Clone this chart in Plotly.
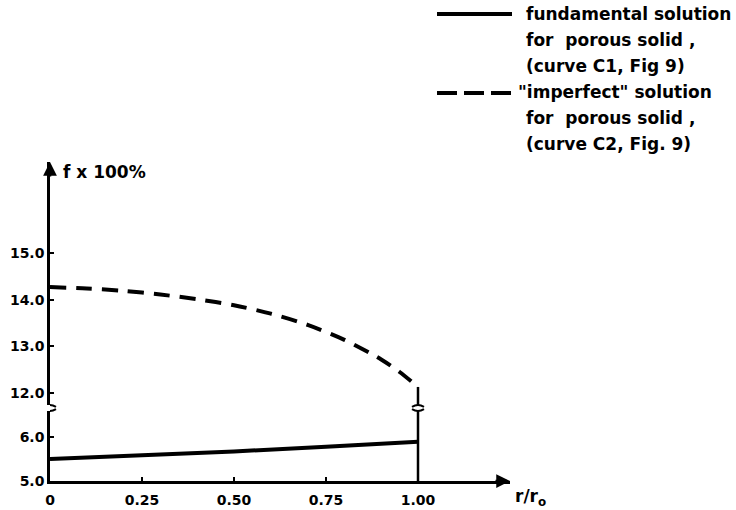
import plotly.graph_objects as go

# Radial position r/r0
r_fund = [0.0, 0.25, 0.50, 0.75, 1.00]
f_fund = [5.50, 5.58, 5.67, 5.78, 5.89]          # fundamental solution (curve C1)

r_imp = [0.0, 0.10, 0.20, 0.30, 0.40, 0.50, 0.60, 0.70, 0.80, 0.90, 0.95, 1.00]
f_imp = [14.27, 14.24, 14.19, 14.11, 14.01, 13.88, 13.70, 13.46, 13.14, 12.72, 12.45, 12.13]  # "imperfect" solution (curve C2)

x_ticks = [0.0, 0.25, 0.50, 0.75, 1.00]
x_ticktext = ["0", "0.25", "0.50", "0.75", "1.00"]
y_low_ticks = [5.0, 6.0]
y_high_ticks = [12.0, 13.0, 14.0, 15.0]

legend_lines_1 = ["fundamental solution", "for  porous solid ,", "(curve C1, Fig 9)"]
legend_lines_2 = ['"imperfect" solution', "for  porous solid ,", "(curve C2, Fig. 9)"]

# axis ranges (broken y axis: lower and upper panels)
x_range = [0.0, 1.25]
y_low_range = [5.0, 6.59]
y_high_range = [11.743, 16.95]
low_dom = [0.0, 0.2194]
high_dom = [0.2382, 1.0]

W, H = 736, 510
M = dict(l=50, r=226, t=162, b=29)
PW = W - M["l"] - M["r"]
PH = H - M["t"] - M["b"]

FONT = "DejaVu Sans"
INK = "black"

fig = go.Figure()

fig.add_trace(go.Scatter(x=r_fund, y=f_fund, mode="lines", xaxis="x", yaxis="y",
                         line=dict(color=INK, width=4), showlegend=False))
fig.add_trace(go.Scatter(x=r_imp, y=f_imp, mode="lines", xaxis="x", yaxis="y2",
                         line=dict(color=INK, width=4, dash="16px,10px",
                                   shape="spline", smoothing=0.8),
                         showlegend=False))

# boundary line at r/r0 = 1 in both panels
fig.add_trace(go.Scatter(x=[1.0, 1.0], y=y_low_range, mode="lines", xaxis="x", yaxis="y",
                         line=dict(color=INK, width=2.5), showlegend=False))
fig.add_trace(go.Scatter(x=[1.0, 1.0], y=[y_high_range[0], f_imp[-1]], mode="lines",
                         xaxis="x", yaxis="y2",
                         line=dict(color=INK, width=2.5), showlegend=False))

tickfont = dict(family=FONT, size=14, color=INK, weight="bold")
axis_common = dict(ticks="inside", ticklen=4, tickwidth=2, tickcolor=INK,
                   showline=True, linewidth=2.5, linecolor=INK, automargin=False,
                   showgrid=False, zeroline=False, tickfont=tickfont)

fig.update_layout(
    width=W, height=H, margin=M,
    paper_bgcolor="white", plot_bgcolor="white",
    xaxis=dict(range=x_range, domain=[0, 1], anchor="y",
               tickvals=x_ticks, ticktext=x_ticktext, ticklabelstandoff=4,
               **axis_common),
    yaxis=dict(range=y_low_range, domain=low_dom, anchor="x",
               tickvals=y_low_ticks, ticktext=[f"{v:.1f}" for v in y_low_ticks],
               **axis_common),
    yaxis2=dict(range=y_high_range, domain=high_dom, anchor="x",
                tickvals=y_high_ticks, ticktext=[f"{v:.1f}" for v in y_high_ticks],
                **axis_common),
    showlegend=False,
)

# arrowheads on the axes
fig.add_annotation(x=x_range[1], y=y_low_range[0], xref="x", yref="y", text="",
                   showarrow=True, ax=-16, ay=0, arrowhead=2, arrowsize=1.1,
                   arrowwidth=2.5, arrowcolor=INK, standoff=0)
fig.add_annotation(x=0, y=y_high_range[1], xref="x", yref="y2", text="",
                   showarrow=True, ax=0, ay=16, arrowhead=2, arrowsize=1.1,
                   arrowwidth=2.5, arrowcolor=INK, standoff=0)

# axis break marks on the y axis and on the r/r0 = 1 line
dx = 6 / PW * (x_range[1] - x_range[0])
dy = 1.8 / PH
for xb in (0.0, 1.0):
    yt = high_dom[0]
    yb = low_dom[1]
    fig.add_shape(type="path", xref="x", yref="paper",
                  path=f"M {xb-dx},{yt-dy} Q {xb},{yt+dy} {xb+dx},{yt-dy}",
                  line=dict(color=INK, width=2))
    fig.add_shape(type="path", xref="x", yref="paper",
                  path=f"M {xb-dx},{yb+dy} Q {xb},{yb-dy} {xb+dx},{yb+dy}",
                  line=dict(color=INK, width=2))

def px_x(p):
    return (p - M["l"]) / PW

def px_y(p):
    return (H - M["b"] - p) / PH

textfont = dict(family=FONT, size=17, color=INK, weight="bold")

# axis titles
fig.add_annotation(x=px_x(61), y=px_y(172), xref="paper", yref="paper",
                   text="f x 100%", showarrow=False, xanchor="left", yanchor="middle",
                   font=textfont)
fig.add_annotation(x=px_x(513), y=px_y(497), xref="paper", yref="paper",
                   text="r/r<sub>o</sub>", showarrow=False, xanchor="left", yanchor="middle",
                   font=textfont)

# key
line_step = 26
for i, t in enumerate(legend_lines_1):
    fig.add_annotation(x=px_x(524), y=px_y(14 + i * line_step), xref="paper", yref="paper",
                       text=t, showarrow=False, xanchor="left", yanchor="middle", font=textfont)
for i, t in enumerate(legend_lines_2):
    x0 = 516 if i == 0 else 524
    fig.add_annotation(x=px_x(x0), y=px_y(92 + i * line_step), xref="paper", yref="paper",
                       text=t, showarrow=False, xanchor="left", yanchor="middle", font=textfont)

fig.add_shape(type="line", xref="paper", yref="paper",
              x0=px_x(437), x1=px_x(512), y0=px_y(14), y1=px_y(14),
              line=dict(color=INK, width=4))
fig.add_shape(type="line", xref="paper", yref="paper",
              x0=px_x(437), x1=px_x(512), y0=px_y(93), y1=px_y(93),
              line=dict(color=INK, width=4, dash="20px,7px"))

fig.write_html("out.html")
